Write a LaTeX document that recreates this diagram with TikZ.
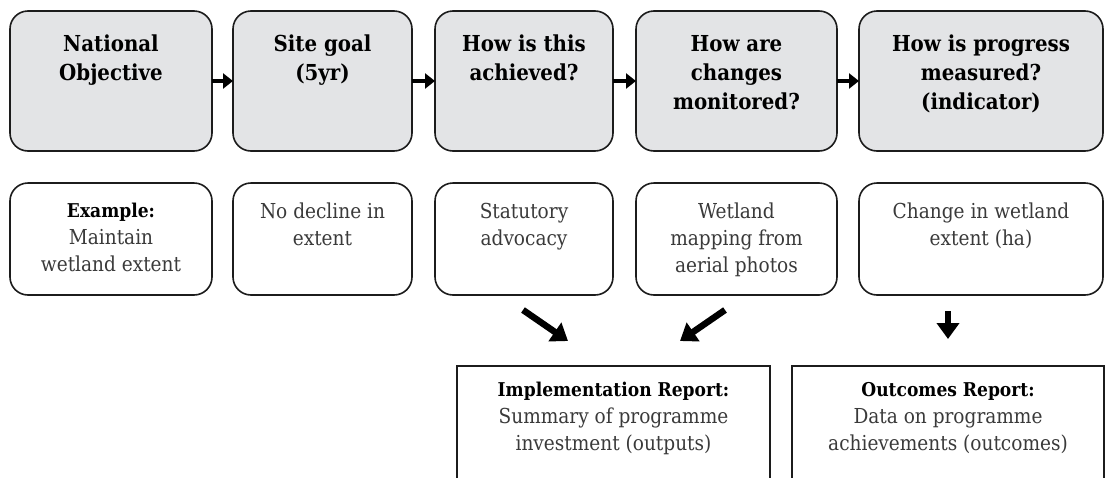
\documentclass[tikz,border=0pt]{standalone}
\usepackage{fontspec}
\setmainfont{DejaVu Serif Condensed}
\usetikzlibrary{arrows.meta}
\definecolor{boxgray}{HTML}{E3E4E6}
\definecolor{edge}{HTML}{1C1C1C}
\definecolor{bodytext}{HTML}{3A3A3A}
\newcommand{\lead}[1]{{\fontsize{19}{27}\selectfont\bfseries\color{black}#1}}
\tikzset{
  box/.style={draw=edge, line width=1.6pt, inner sep=0pt, outer sep=0pt},
  graybox/.style={box, fill=boxgray, rounded corners=18pt, minimum height=140pt},
  whitebox/.style={box, fill=white, rounded corners=18pt, minimum height=112pt},
  reportbox/.style={box, fill=white, minimum height=130pt},
  headtext/.style={anchor=north, align=center, inner sep=0pt, font=\fontsize{22}{29}\selectfont\bfseries},
  bodytxt/.style={anchor=north, align=center, inner sep=0pt, text=bodytext, font=\fontsize{20.6}{27}\selectfont},
  flowarrow/.style={-{Triangle[length=10pt,width=15pt]}, line width=4pt, draw=black},
  bigarrow/.style={-{Triangle[length=16pt,width=22pt]}, line width=6.5pt, draw=black},
}
\begin{document}
\begin{tikzpicture}[x=1pt,y=-1pt]
\useasboundingbox (0,0) rectangle (1106,477);
% top row
\node[graybox, minimum width=202pt] (g1) at (111,81) {};
\node[graybox, minimum width=179pt] (g2) at (322.5,81) {};
\node[graybox, minimum width=178pt] (g3) at (524,81) {};
\node[graybox, minimum width=201pt] (g4) at (736.5,81) {};
\node[graybox, minimum width=244pt] (g5) at (981,81) {};
\node[headtext] (t1) at ([yshift=-24pt]g1.north) {National\\Objective};
\node[headtext] (t2) at ([yshift=-24pt]g2.north) {Site goal\\(5yr)};
\node[headtext] (t3) at ([yshift=-24pt]g3.north) {How is this\\achieved?};
\node[headtext] (t4) at ([yshift=-24pt]g4.north) {How are\\changes\\monitored?};
\node[headtext] (t5) at ([yshift=-24pt]g5.north) {How is progress\\measured?\\(indicator)};
% second row
\node[whitebox, minimum width=202pt] (w1) at (111,239) {};
\node[whitebox, minimum width=179pt] (w2) at (322.5,239) {};
\node[whitebox, minimum width=178pt] (w3) at (524,239) {};
\node[whitebox, minimum width=201pt] (w4) at (736.5,239) {};
\node[whitebox, minimum width=244pt] (w5) at (981,239) {};
\node[bodytxt] (s1) at ([yshift=-20pt]w1.north) {\lead{Example:}\\Maintain\\wetland extent};
\node[bodytxt] (s2) at ([yshift=-20pt]w2.north) {No decline in\\extent};
\node[bodytxt] (s3) at ([yshift=-20pt]w3.north) {Statutory\\advocacy};
\node[bodytxt] (s4) at ([yshift=-20pt]w4.north) {Wetland\\mapping from\\aerial photos};
\node[bodytxt] (s5) at ([yshift=-20pt]w5.north) {Change in wetland\\extent (ha)};
% reports
\node[reportbox, minimum width=313pt] (r1) at (613.5,431) {};
\node[reportbox, minimum width=312pt] (r2) at (948,431) {};
\node[bodytxt] (rt1) at ([yshift=-16pt]r1.north) {\lead{Implementation Report:}\\Summary of programme\\investment (outputs)};
\node[bodytxt] (rt2) at ([yshift=-16pt]r2.north) {\lead{Outcomes Report:}\\Data on programme\\achievements (outcomes)};
% flow arrows
\draw[flowarrow] (g1.east) -- (g2.west);
\draw[flowarrow] (g2.east) -- (g3.west);
\draw[flowarrow] (g3.east) -- (g4.west);
\draw[flowarrow] (g4.east) -- (g5.west);
% arrows to reports
\coordinate (a1s) at (523,310);
\coordinate (a1e) at (568,341);
\coordinate (a2s) at (725,310);
\coordinate (a2e) at (680,341);
\coordinate (a3s) at (948,311);
\coordinate (a3e) at (948,339);
\draw[bigarrow] (a1s) -- (a1e);
\draw[bigarrow] (a2s) -- (a2e);
\draw[bigarrow] (a3s) -- (a3e);
\end{tikzpicture}
\end{document}
